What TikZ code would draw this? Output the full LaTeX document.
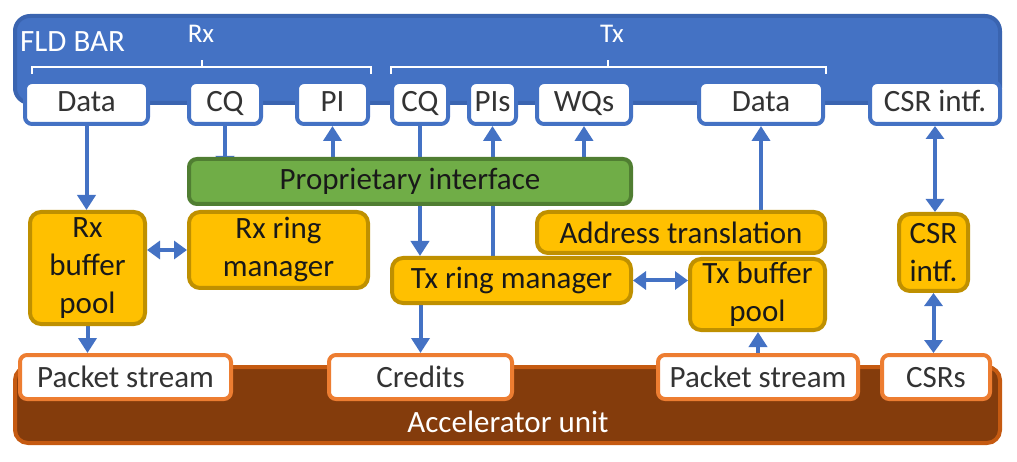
\documentclass[tikz,border=0pt]{standalone}
\usepackage{fontspec}
\setmainfont{Carlito}
\usetikzlibrary{arrows.meta,calc}
\definecolor{bluef}{HTML}{4472C4}
\definecolor{blued}{HTML}{3A64B0}
\definecolor{greenf}{HTML}{70AD47}
\definecolor{greend}{HTML}{507E32}
\definecolor{yelf}{HTML}{FFC000}
\definecolor{yeld}{HTML}{BF9000}
\definecolor{brownf}{HTML}{843C0C}
\definecolor{brownd}{HTML}{C55A11}
\definecolor{orngd}{HTML}{ED7D31}
\definecolor{txtc}{HTML}{333333}
\pgfdeclarelayer{bg}\pgfsetlayers{bg,main}
\newcommand\bx[7]{\node[#1, minimum width={#5pt-#3pt-4pt}, minimum height={#6pt-#4pt-4pt}] (#2) at ({(#3+#5)/2},{(#4+#6)/2}) {#7};}
\tikzset{
 basebox/.style={rectangle, inner sep=0pt, line width=4pt, font=\fontsize{31}{38}\selectfont, align=center},
 fldbox/.style={basebox, fill=bluef, draw=blued, rounded corners=15pt},
 wb/.style={basebox, fill=white, draw=bluef, rounded corners=7pt, text=txtc, text height=17pt, text depth=0pt},
 grn/.style={basebox, fill=greenf, draw=greend, rounded corners=8pt, text=black!90},
 yel/.style={basebox, fill=yelf, draw=yeld, rounded corners=11pt, text=black!90},
 brn/.style={basebox, fill=brownf, draw=brownd, rounded corners=13pt},
 ob/.style={basebox, fill=white, draw=orngd, rounded corners=7pt, text=txtc, text height=20pt, text depth=0pt},
 arr/.style={draw=bluef, line width=4pt, -{Triangle[length=15pt,width=18pt]}},
 darr/.style={draw=bluef, line width=4pt, {Triangle[length=13pt,width=18pt]}-{Triangle[length=13pt,width=18pt]}},
 lbl/.style={text=white, inner sep=0pt},
 bracel/.style={draw=white, line width=2.5pt},
}
\begin{document}
\begin{tikzpicture}[x=1pt,y=-1pt]
\useasboundingbox (0,0) rectangle (1017,462);
% FLD BAR
\bx{fldbox}{fld}{13}{14}{1002}{105}{}
\node[lbl, anchor=base west, font=\fontsize{31}{38}\selectfont] (fldlbl) at (20,52) {FLD BAR};
\node[lbl, anchor=base, font=\fontsize{27}{30}\selectfont] (rxlbl) at (201,43) {Rx};
\node[lbl, anchor=base, font=\fontsize{27}{30}\selectfont] (txlbl) at (612,43) {Tx};
\draw[bracel] (32,74) -- (32,67) -- (371,67) -- (371,74) (202,67) -- (202,60);
\draw[bracel] (391,74) -- (391,67) -- (826,67) -- (826,74) (608,67) -- (608,60);
% white boxes on the bar
\bx{wb}{dataRx}{23}{80}{150}{126}{Data}
\bx{wb}{cqRx}{187}{80}{263}{126}{CQ}
\bx{wb}{piRx}{295}{80}{370}{126}{PI}
\bx{wb}{cqTx}{390}{80}{450}{126}{CQ}
\bx{wb}{pisTx}{467}{80}{518}{126}{PIs}
\bx{wb}{wqs}{535}{80}{633}{126}{WQs}
\bx{wb}{dataTx}{697}{80}{825}{126}{Data}
\bx{wb}{csrif}{868}{80}{1002}{126}{CSR intf.}
% green
\bx{grn}{prop}{187}{157}{633}{206}{Proprietary interface}
% yellow
\bx{yel}{rxbuf}{28}{210}{147}{326}{Rx\\buffer\\pool}
\bx{yel}{rxring}{187}{210}{370}{290}{Rx ring\\manager}
\bx{yel}{addr}{535}{210}{827}{255}{Address translation}
\bx{yel}{txring}{390}{256}{633}{305}{Tx ring manager}
\bx{yel}{txbuf}{688}{257}{827}{332}{Tx buffer\\pool}
\bx{yel}{csry}{897}{212}{970}{293}{CSR\\intf.}
% accelerator
\bx{brn}{acc}{13}{365}{1002}{445}{}
\node[lbl, anchor=base, font=\fontsize{31}{38}\selectfont] (acclbl) at (508,432) {Accelerator unit};
\bx{ob}{psRx}{18}{353}{233}{401}{Packet stream}
\bx{ob}{credits}{327}{353}{514}{401}{Credits}
\bx{ob}{psTx}{656}{353}{860}{401}{Packet stream}
\bx{ob}{csrs}{880}{353}{992}{401}{CSRs}
% connectors
\coordinate (cqend) at ([yshift=-14pt]cqRx.south |- prop.north);
\begin{pgfonlayer}{bg}
\draw[arr] (dataRx.south) -- (dataRx.south |- rxbuf.north);
\draw[arr] (rxbuf.south) -- (rxbuf.south |- psRx.north);
\draw[arr] (cqRx.south) -- (cqend);
\draw[arr] (piRx.south |- prop.north) -- (piRx.south);
\draw[arr] (cqTx.south) -- (cqTx.south |- txring.north);
\draw[arr] (pisTx.south |- txring.north) -- (pisTx.south);
\draw[arr] (wqs.south |- prop.north) -- (wqs.south);
\draw[arr] (dataTx.south |- addr.north) -- (dataTx.south);
\draw[darr] (csrif.south) -- (csrif.south |- csry.north);
\draw[darr] (csry.south) -- (csry.south |- csrs.north);
\draw[darr] (rxring.west -| rxbuf.east) -- (rxring.west);
\draw[darr] (txring.east) -- (txring.east -| txbuf.west);
\draw[arr] (credits.north |- txring.south) -- (credits.north);
\draw[arr] (psTx.north) -- (psTx.north |- txbuf.south);
\end{pgfonlayer}
\end{tikzpicture}
\end{document}
